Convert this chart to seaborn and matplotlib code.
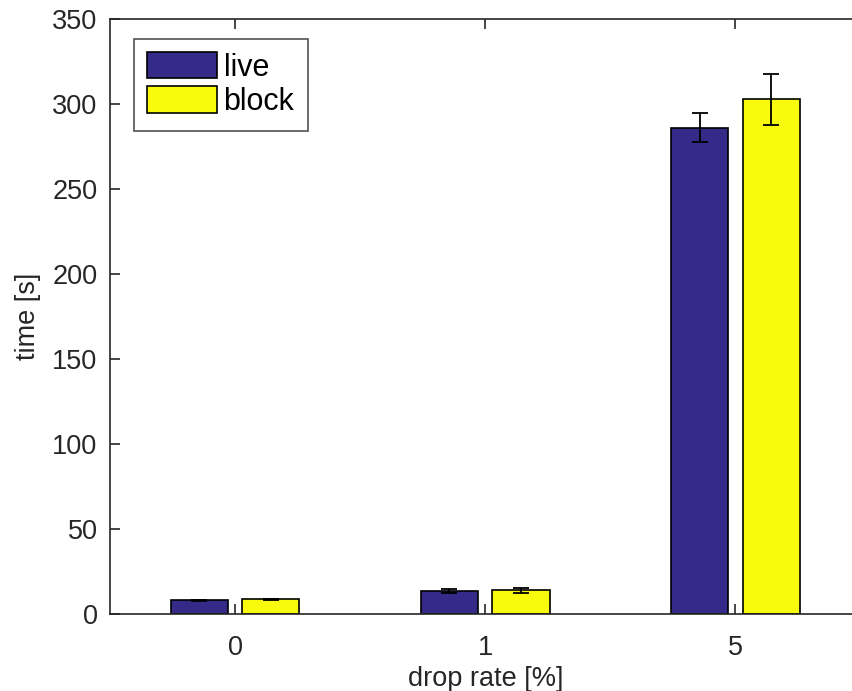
import matplotlib
matplotlib.use("Agg")
import matplotlib.pyplot as plt
import seaborn as sns
import pandas as pd

categories = ["0", "1", "5"]
series = ["live", "block"]
live_vals = [8.0, 13.3, 286.0]
block_vals = [8.4, 13.7, 302.7]
live_err = [0.3, 1.0, 8.5]
block_err = [0.3, 1.3, 15.0]
yticks = [0, 50, 100, 150, 200, 250, 300, 350]

colors = {"live": "#352A87", "block": "#F9FB0E"}
axcol = "#262626"
FS = 19.5
LFS = 22

df = pd.DataFrame({
    "rate": categories * 2,
    "series": ["live"] * 3 + ["block"] * 3,
    "time": live_vals + block_vals,
})
errs = {"live": live_err, "block": block_err}

sns.set_theme(style="white")
plt.rcParams['font.family'] = ['Liberation Sans', 'DejaVu Sans']
plt.rcParams['font.size'] = FS

fig = plt.figure(figsize=(8.52, 6.91), dpi=100)
ax = fig.add_axes([110 / 852, (691 - 613.7) / 691, (860.5 - 110) / 852, (613.7 - 19) / 691])

sns.barplot(data=df, x="rate", y="time", hue="series", order=categories,
            hue_order=series, palette=colors, width=0.572, gap=0.2,
            errorbar=None, edgecolor="black", linewidth=1.2, ax=ax,
            saturation=1)

for cont, name in zip(ax.containers, series):
    xs = [p.get_x() + p.get_width() / 2 for p in cont.patches]
    hs = [p.get_height() for p in cont.patches]
    ax.errorbar(xs, hs, yerr=errs[name], fmt="none", ecolor="black",
                elinewidth=1.3, capsize=6, capthick=1.3, zorder=5)

ax.set_xlim(-0.5, 2.5)
ax.set_ylim(0, 350)
ax.set_yticks(yticks)
ax.set_yticklabels([str(v) for v in yticks])
ax.set_xlabel("drop rate [%]", fontsize=FS, color=axcol, labelpad=4)
ax.set_ylabel("time [s]", fontsize=FS, color=axcol, labelpad=8)

for s in ax.spines.values():
    s.set_visible(True)
    s.set_color(axcol)
    s.set_linewidth(1.2)
ax.tick_params(axis="both", which="both", direction="in", length=7, width=1.2,
               color=axcol, labelcolor=axcol, labelsize=FS,
               top=True, right=False, bottom=True, left=True)
ax.tick_params(axis="x", pad=15)
ax.tick_params(axis="y", pad=9)

leg = ax.legend(loc="upper left", bbox_to_anchor=(0.032, 0.967), fontsize=LFS,
                frameon=True, fancybox=False, handlelength=2.27, handleheight=0.95,
                handletextpad=0.22, borderpad=0.44, labelspacing=0.12, borderaxespad=0)
leg.get_frame().set_edgecolor(axcol)
leg.get_frame().set_linewidth(1.2)
for t in leg.get_texts():
    t.set_color("black")

fig.savefig("out.png", dpi=100)
